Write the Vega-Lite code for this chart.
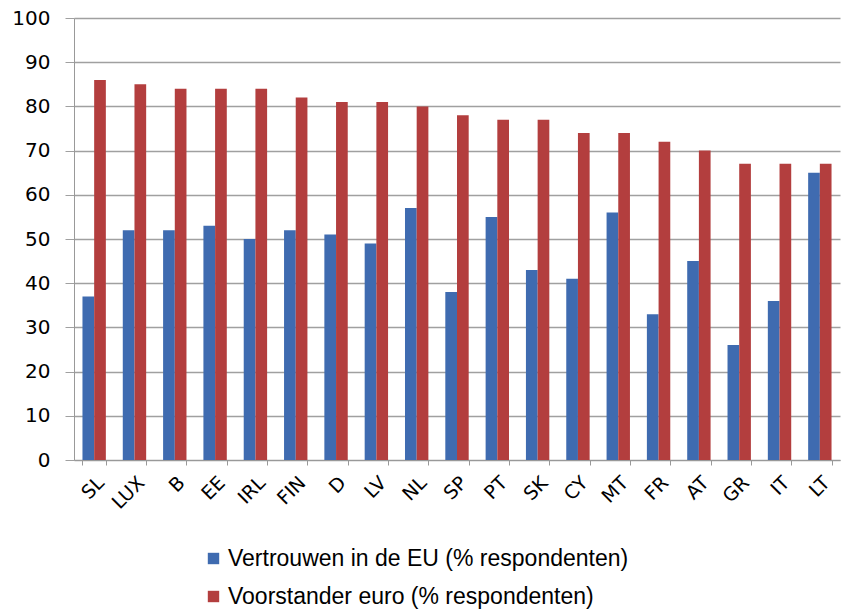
{
  "$schema": "https://vega.github.io/schema/vega-lite/v6.json",
  "width": 766,
  "height": 442,
  "autosize": {"type": "none"},
  "padding": {"left": 74, "top": 18, "right": 6, "bottom": 150},
  "background": "white",
  "data": {
    "values": [
      {"land": "SL", "reeks": "Vertrouwen in de EU (% respondenten)", "waarde": 37},
      {"land": "SL", "reeks": "Voorstander euro (% respondenten)", "waarde": 86},
      {"land": "LUX", "reeks": "Vertrouwen in de EU (% respondenten)", "waarde": 52},
      {"land": "LUX", "reeks": "Voorstander euro (% respondenten)", "waarde": 85},
      {"land": "B", "reeks": "Vertrouwen in de EU (% respondenten)", "waarde": 52},
      {"land": "B", "reeks": "Voorstander euro (% respondenten)", "waarde": 84},
      {"land": "EE", "reeks": "Vertrouwen in de EU (% respondenten)", "waarde": 53},
      {"land": "EE", "reeks": "Voorstander euro (% respondenten)", "waarde": 84},
      {"land": "IRL", "reeks": "Vertrouwen in de EU (% respondenten)", "waarde": 50},
      {"land": "IRL", "reeks": "Voorstander euro (% respondenten)", "waarde": 84},
      {"land": "FIN", "reeks": "Vertrouwen in de EU (% respondenten)", "waarde": 52},
      {"land": "FIN", "reeks": "Voorstander euro (% respondenten)", "waarde": 82},
      {"land": "D", "reeks": "Vertrouwen in de EU (% respondenten)", "waarde": 51},
      {"land": "D", "reeks": "Voorstander euro (% respondenten)", "waarde": 81},
      {"land": "LV", "reeks": "Vertrouwen in de EU (% respondenten)", "waarde": 49},
      {"land": "LV", "reeks": "Voorstander euro (% respondenten)", "waarde": 81},
      {"land": "NL", "reeks": "Vertrouwen in de EU (% respondenten)", "waarde": 57},
      {"land": "NL", "reeks": "Voorstander euro (% respondenten)", "waarde": 80},
      {"land": "SP", "reeks": "Vertrouwen in de EU (% respondenten)", "waarde": 38},
      {"land": "SP", "reeks": "Voorstander euro (% respondenten)", "waarde": 78},
      {"land": "PT", "reeks": "Vertrouwen in de EU (% respondenten)", "waarde": 55},
      {"land": "PT", "reeks": "Voorstander euro (% respondenten)", "waarde": 77},
      {"land": "SK", "reeks": "Vertrouwen in de EU (% respondenten)", "waarde": 43},
      {"land": "SK", "reeks": "Voorstander euro (% respondenten)", "waarde": 77},
      {"land": "CY", "reeks": "Vertrouwen in de EU (% respondenten)", "waarde": 41},
      {"land": "CY", "reeks": "Voorstander euro (% respondenten)", "waarde": 74},
      {"land": "MT", "reeks": "Vertrouwen in de EU (% respondenten)", "waarde": 56},
      {"land": "MT", "reeks": "Voorstander euro (% respondenten)", "waarde": 74},
      {"land": "FR", "reeks": "Vertrouwen in de EU (% respondenten)", "waarde": 33},
      {"land": "FR", "reeks": "Voorstander euro (% respondenten)", "waarde": 72},
      {"land": "AT", "reeks": "Vertrouwen in de EU (% respondenten)", "waarde": 45},
      {"land": "AT", "reeks": "Voorstander euro (% respondenten)", "waarde": 70},
      {"land": "GR", "reeks": "Vertrouwen in de EU (% respondenten)", "waarde": 26},
      {"land": "GR", "reeks": "Voorstander euro (% respondenten)", "waarde": 67},
      {"land": "IT", "reeks": "Vertrouwen in de EU (% respondenten)", "waarde": 36},
      {"land": "IT", "reeks": "Voorstander euro (% respondenten)", "waarde": 67},
      {"land": "LT", "reeks": "Vertrouwen in de EU (% respondenten)", "waarde": 65},
      {"land": "LT", "reeks": "Voorstander euro (% respondenten)", "waarde": 67}
    ]
  },
  "mark": {"type": "bar"},
  "encoding": {
    "x": {
      "field": "land",
      "type": "nominal",
      "sort": null,
      "title": null,
      "scale": {"paddingInner": 0.42, "paddingOuter": 0.21},
      "axis": {
        "labelAngle": -45,
        "labelFont": "DejaVu Sans",
        "labelFontSize": 19,
        "labelColor": "#000000",
        "labelPadding": 8,
        "tickBand": "extent",
        "tickColor": "#999999",
        "tickSize": 5,
        "domainColor": "#999999",
        "grid": false
      }
    },
    "xOffset": {
      "field": "reeks",
      "type": "nominal",
      "scale": {"paddingInner": 0}
    },
    "y": {
      "field": "waarde",
      "type": "quantitative",
      "title": null,
      "scale": {"domain": [0, 100], "nice": false},
      "axis": {
        "values": [0, 10, 20, 30, 40, 50, 60, 70, 80, 90, 100],
        "labelFont": "DejaVu Sans",
        "labelFontSize": 20,
        "labelColor": "#000000",
        "labelPadding": 15,
        "tickColor": "#a0a0a0",
        "tickSize": 9,
        "domainColor": "#999999",
        "gridColor": "#a0a0a0",
        "gridWidth": 1.4
      }
    },
    "color": {
      "field": "reeks",
      "type": "nominal",
      "scale": {
        "domain": ["Vertrouwen in de EU (% respondenten)", "Voorstander euro (% respondenten)"],
        "range": ["#3f6bb0", "#b33e3e"]
      },
      "legend": {
        "title": null,
        "orient": "none",
        "legendX": 128,
        "legendY": 529,
        "direction": "vertical",
        "symbolType": "square",
        "symbolSize": 130,
        "symbolStrokeWidth": 0,
        "rowPadding": 14,
        "labelOffset": 3,
        "labelFont": "Liberation Sans",
        "labelFontSize": 23,
        "labelColor": "#000000",
        "labelLimit": 700
      }
    }
  },
  "config": {
    "view": {"stroke": null}
  }
}
